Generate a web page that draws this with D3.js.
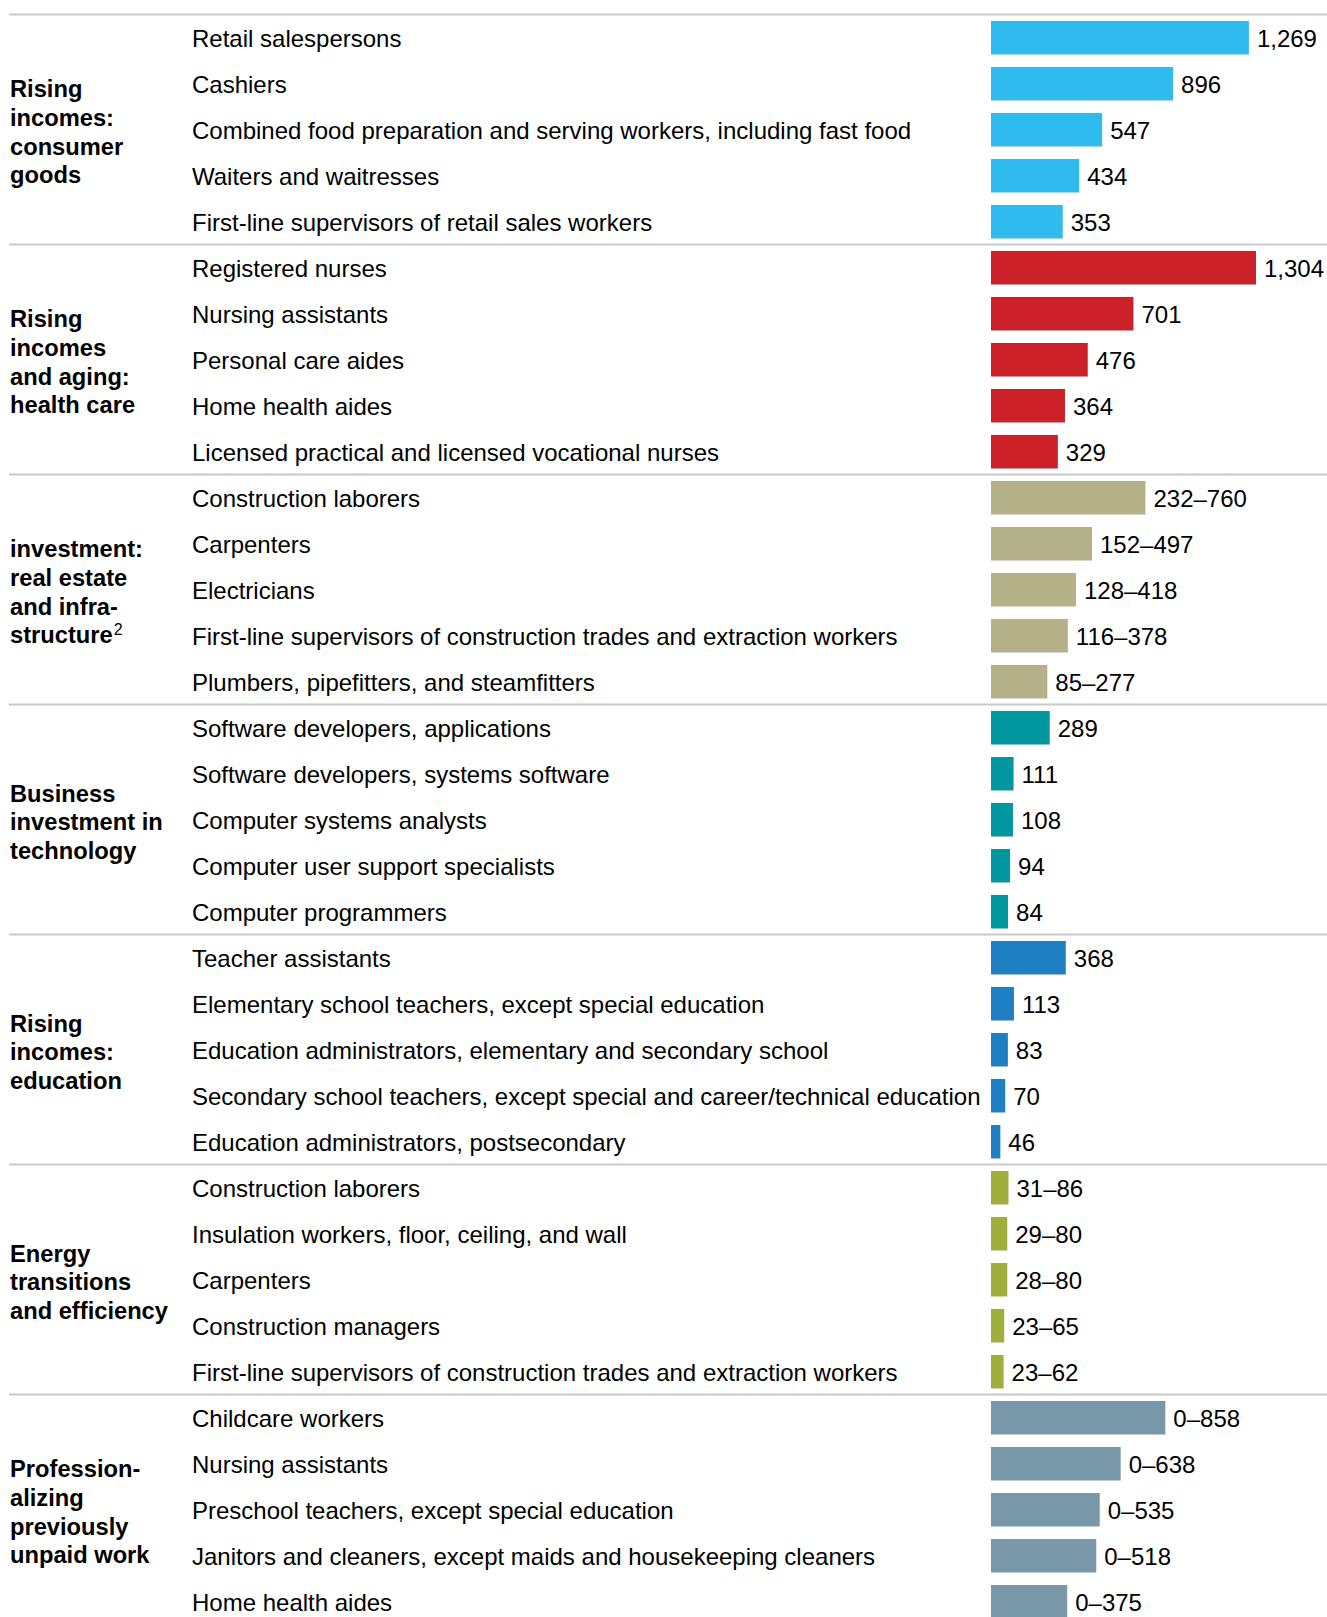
<!DOCTYPE html>
<html>
<head>
<meta charset="utf-8">
<script src="https://cdn.jsdelivr.net/npm/d3@7"></script>
<style>
  html, body { margin: 0; padding: 0; background: #fff; }
  svg { display: block; }
  text { font-family: "Liberation Sans", Arial, Helvetica, sans-serif; fill: #000; }
</style>
</head>
<body>
<svg id="chart" width="1327" height="1617"></svg>
<script>
// ---- Data ----
const groupLabels = [
  ["Rising", "incomes:", "consumer", "goods"],
  ["Rising", "incomes", "and aging:", "health care"],
  ["investment:", "real estate", "and infra-", "structure|2"],
  ["Business", "investment in", "technology"],
  ["Rising", "incomes:", "education"],
  ["Energy", "transitions", "and efficiency"],
  ["Profession-", "alizing", "previously", "unpaid work"]
];
const groupColors = ["#2FBBEE", "#CD2129", "#B4B188", "#0097A0", "#1F7FC3", "#A0AE3B", "#7897A8"];

const occupations = [
  ["Retail salespersons", "Cashiers", "Combined food preparation and serving workers, including fast food", "Waiters and waitresses", "First-line supervisors of retail sales workers"],
  ["Registered nurses", "Nursing assistants", "Personal care aides", "Home health aides", "Licensed practical and licensed vocational nurses"],
  ["Construction laborers", "Carpenters", "Electricians", "First-line supervisors of construction trades and extraction workers", "Plumbers, pipefitters, and steamfitters"],
  ["Software developers, applications", "Software developers, systems software", "Computer systems analysts", "Computer user support specialists", "Computer programmers"],
  ["Teacher assistants", "Elementary school teachers, except special education", "Education administrators, elementary and secondary school", "Secondary school teachers, except special and career/technical education", "Education administrators, postsecondary"],
  ["Construction laborers", "Insulation workers, floor, ceiling, and wall", "Carpenters", "Construction managers", "First-line supervisors of construction trades and extraction workers"],
  ["Childcare workers", "Nursing assistants", "Preschool teachers, except special education", "Janitors and cleaners, except maids and housekeeping cleaners", "Home health aides"]
];
// bar length = upper end of the value (thousands of jobs)
const values = [
  [1269, 896, 547, 434, 353],
  [1304, 701, 476, 364, 329],
  [760, 497, 418, 378, 277],
  [289, 111, 108, 94, 84],
  [368, 113, 83, 70, 46],
  [86, 80, 80, 65, 62],
  [858, 638, 535, 518, 375]
];
const valueLabels = [
  ["1,269", "896", "547", "434", "353"],
  ["1,304", "701", "476", "364", "329"],
  ["232\u2013760", "152\u2013497", "128\u2013418", "116\u2013378", "85\u2013277"],
  ["289", "111", "108", "94", "84"],
  ["368", "113", "83", "70", "46"],
  ["31\u201386", "29\u201380", "28\u201380", "23\u201365", "23\u201362"],
  ["0\u2013858", "0\u2013638", "0\u2013535", "0\u2013518", "0\u2013375"]
];

// ---- Build rows ----
const rows = [];
occupations.forEach((occ, g) => occ.forEach((name, r) => {
  rows.push({ g, r, name, value: values[g][r], label: valueLabels[g][r], idx: rows.length });
}));

const W = 1327, H = 1617;
const svg = d3.select("#chart");

const rowStep = 46, top0 = 14, rowsPerGroup = 5;
const y = d3.scaleLinear().domain([0, rows.length]).range([top0, top0 + rows.length * rowStep]);
const x = d3.scaleLinear().domain([0, 1304]).range([991, 1256]);
const barOffset = 7, barH = 33.5;
const fontSize = 24;

// separators
const nGroups = occupations.length;
svg.append("g").selectAll("line")
  .data(d3.range(nGroups))
  .join("line")
  .attr("x1", 9).attr("x2", W)
  .attr("y1", g => y(g * rowsPerGroup) + 0.5)
  .attr("y2", g => y(g * rowsPerGroup) + 0.5)
  .attr("stroke", "#c9c9c9")
  .attr("stroke-width", 2);

// bars
svg.append("g").selectAll("rect")
  .data(rows)
  .join("rect")
  .attr("x", x(0))
  .attr("y", d => y(d.idx) + barOffset)
  .attr("width", d => x(d.value) - x(0))
  .attr("height", barH)
  .attr("fill", d => groupColors[d.g]);

const center = d => y(d.idx) + barOffset + barH / 2;

// occupation labels
svg.append("g").selectAll("text")
  .data(rows)
  .join("text")
  .attr("x", 192)
  .attr("y", d => center(d) + 9.3)
  .attr("font-size", fontSize)
  .text(d => d.name);

// value labels
svg.append("g").selectAll("text")
  .data(rows)
  .join("text")
  .attr("x", d => x(d.value) + 8)
  .attr("y", d => center(d) + 9.3)
  .attr("font-size", fontSize)
  .text(d => d.label);

// group labels
const lineH = 28.7;
const gl = svg.append("g").selectAll("text")
  .data(groupLabels)
  .join("text")
  .attr("font-size", 23.7)
  .attr("font-weight", "bold")
  .attr("x", 10);
gl.each(function(lines, g) {
  const gc = y(g * rowsPerGroup + rowsPerGroup / 2);
  const firstBase = gc - (lines.length - 1) * lineH / 2 + 11.3;
  const t = d3.select(this);
  lines.forEach((ln, i) => {
    const parts = ln.split("|");
    t.append("tspan")
      .attr("x", 10)
      .attr("y", firstBase + i * lineH)
      .text(parts[0]);
    if (parts[1]) {
      t.append("tspan")
        .attr("font-size", 16)
        .attr("font-weight", "normal")
        .attr("dx", 1)
        .attr("dy", -8)
        .text(parts[1]);
    }
  });
});
</script>
</body>
</html>
